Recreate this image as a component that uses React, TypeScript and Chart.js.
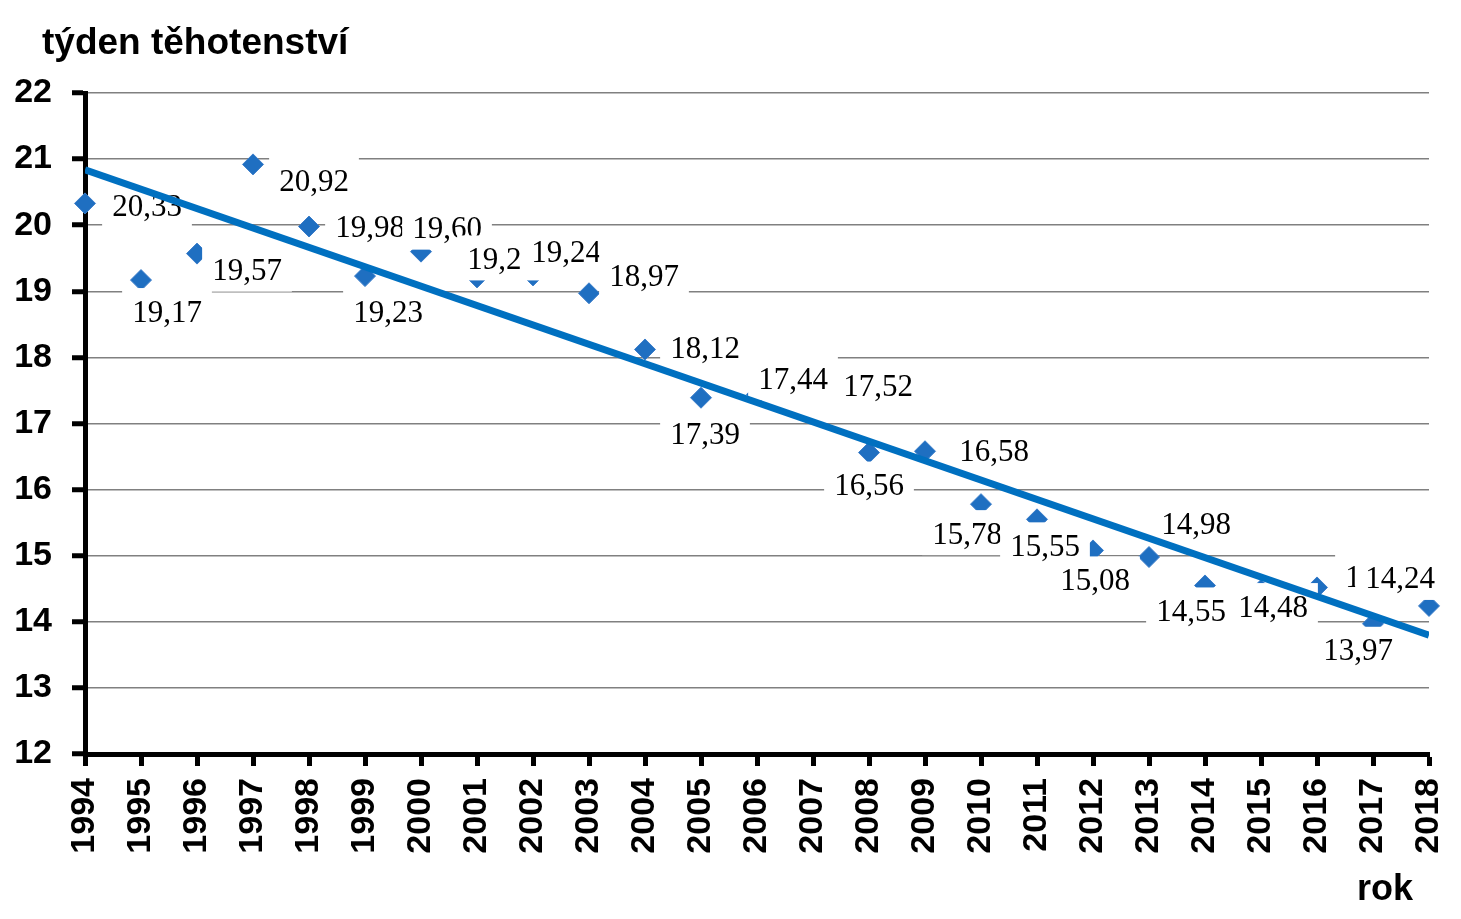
import React, { useEffect, useRef } from "react";
import { Chart, registerables } from "chart.js";

Chart.register(...registerables);

const years: number[] = [
  1994, 1995, 1996, 1997, 1998, 1999, 2000, 2001, 2002, 2003, 2004, 2005,
  2006, 2007, 2008, 2009, 2010, 2011, 2012, 2013, 2014, 2015, 2016, 2017, 2018,
];
const weeks: number[] = [
  20.33, 19.17, 19.57, 20.92, 19.98, 19.23, 19.6, 19.21, 19.24, 18.97, 18.12,
  17.39, 17.44, 17.52, 16.56, 16.58, 15.78, 15.55, 15.08, 14.98, 14.55, 14.48,
  14.52, 13.97, 14.24,
];
const yTicks: number[] = [12, 13, 14, 15, 16, 17, 18, 19, 20, 21, 22];
const yTitle = "týden těhotenství";
const xTitle = "rok";

// label centre offsets (px) from each point
const labelOffsets: [number, number][] = [
  [62, 2], [26, 31], [50, 16], [61, 16], [61, 0], [23, 35], [26, -24],
  [25, -19], [33, -24], [55, -18], [60, -2], [4, 36], [36, -16], [65, -4],
  [0, 32], [69, -1], [-14, 29], [8, 26], [2, 29], [47, -34], [-14, 25],
  [12, 16], [63, -11], [-15, 26], [-29, -28],
];

function trend(xs: number[], ys: number[]) {
  const n = xs.length;
  const mx = xs.reduce((a, b) => a + b, 0) / n;
  const my = ys.reduce((a, b) => a + b, 0) / n;
  let sxy = 0;
  let sxx = 0;
  for (let i = 0; i < n; i++) {
    sxy += (xs[i] - mx) * (ys[i] - my);
    sxx += (xs[i] - mx) * (xs[i] - mx);
  }
  const b = sxy / sxx;
  const a = my - b * mx;
  return (x: number) => a + b * x;
}

export default function App() {
  const ref = useRef<HTMLCanvasElement | null>(null);

  useEffect(() => {
    document.body.style.margin = "0";
    if (!ref.current) return;
    const f = trend(years, weeks);
    const x0 = years[0];
    const x1 = years[years.length - 1];

    const labelPlugin = {
      id: "pointLabels",
      afterDatasetDraw(chart: any, args: any) {
        if (args.index !== 0) return;
        const ctx = chart.ctx;
        const meta = chart.getDatasetMeta(0);
        ctx.save();
        ctx.font = '31px "Liberation Serif"';
        ctx.textAlign = "center";
        ctx.textBaseline = "alphabetic";
        meta.data.forEach((el: any, i: number) => {
          const [dx, dy] = labelOffsets[i];
          const cx = el.x + dx;
          const cy = el.y + dy;
          const txt = weeks[i].toFixed(2).replace(".", ",");
          const w = ctx.measureText(txt).width;
          ctx.fillStyle = "#ffffff";
          ctx.fillRect(cx - w / 2 - 10, cy - 23, w + 20, 45);
          ctx.fillStyle = "#000000";
          ctx.fillText(txt, cx, cy + 10.5);
        });
        ctx.restore();
      },
    };

    const textPlugin = {
      id: "axisTexts",
      afterDraw(chart: any) {
        const ctx = chart.ctx;
        ctx.save();
        ctx.fillStyle = "#000";
        ctx.font = 'bold 37px "Liberation Sans"';
        ctx.textAlign = "left";
        ctx.textBaseline = "alphabetic";
        ctx.fillText(yTitle, 42, 54);
        ctx.font = 'bold 36px "Liberation Sans"';
        ctx.fillText(xTitle, 1357, 900);
        ctx.restore();
      },
    };

    const chart = new Chart(ref.current, {
      type: "scatter",
      data: {
        datasets: [
          {
            type: "scatter",
            data: years.map((y, i) => ({ x: y, y: weeks[i] })),
            pointStyle: "rectRot",
            pointRadius: 10.5,
            pointBackgroundColor: "#1F6FC1",
            pointBorderColor: "#3B7DC9",
            pointBorderWidth: 1,
            clip: false,
            order: 2,
          },
          {
            type: "line",
            data: [
              { x: x0, y: f(x0) },
              { x: x1, y: f(x1) },
            ],
            borderColor: "#0070C0",
            borderWidth: 7,
            pointRadius: 0,
            fill: false,
            order: 1,
          } as any,
        ],
      },
      options: {
        responsive: false,
        animation: false,
        devicePixelRatio: 1,
        layout: { padding: { top: 93, right: 32, bottom: 0, left: 0 } },
        plugins: {
          legend: { display: false },
          tooltip: { enabled: false },
          title: { display: false },
        },
        scales: {
          x: {
            type: "linear",
            min: x0,
            max: x1,
            afterBuildTicks(scale: any) {
              scale.ticks = years.map((v) => ({ value: v }));
            },
            afterFit(scale: any) {
              scale.height = 165;
              scale.paddingLeft = 0;
              scale.paddingRight = 0;
            },
            border: { display: true, color: "#000", width: 5 },
            grid: {
              drawOnChartArea: false,
              drawTicks: true,
              tickLength: 12,
              tickColor: "#000",
              tickWidth: 5,
            },
            ticks: {
              minRotation: 90,
              maxRotation: 90,
              padding: 12,
              color: "#000",
              font: { family: "Liberation Sans", weight: "bold", size: 34 },
              callback: (v: any) => String(v),
            },
          },
          y: {
            type: "linear",
            min: 12,
            max: 22,
            afterBuildTicks(scale: any) {
              scale.ticks = yTicks.map((v) => ({ value: v }));
            },
            afterFit(scale: any) {
              scale.width = 85;
            },
            border: { display: true, color: "#000", width: 5 },
            grid: {
              color: "#808080",
              lineWidth: 1.5,
              drawTicks: true,
              tickLength: 13,
              tickColor: "#000",
              tickWidth: 5,
            },
            ticks: {
              padding: 20,
              color: "#000",
              font: { family: "Liberation Sans", weight: "bold", size: 34 },
              callback: (v: any) => String(v),
            },
          },
        },
      },
      plugins: [labelPlugin, textPlugin],
    } as any);

    return () => chart.destroy();
  }, []);

  return (
    <div style={{ width: 1461, height: 919, background: "#fff" }}>
      <canvas ref={ref} width={1461} height={919} />
    </div>
  );
}
